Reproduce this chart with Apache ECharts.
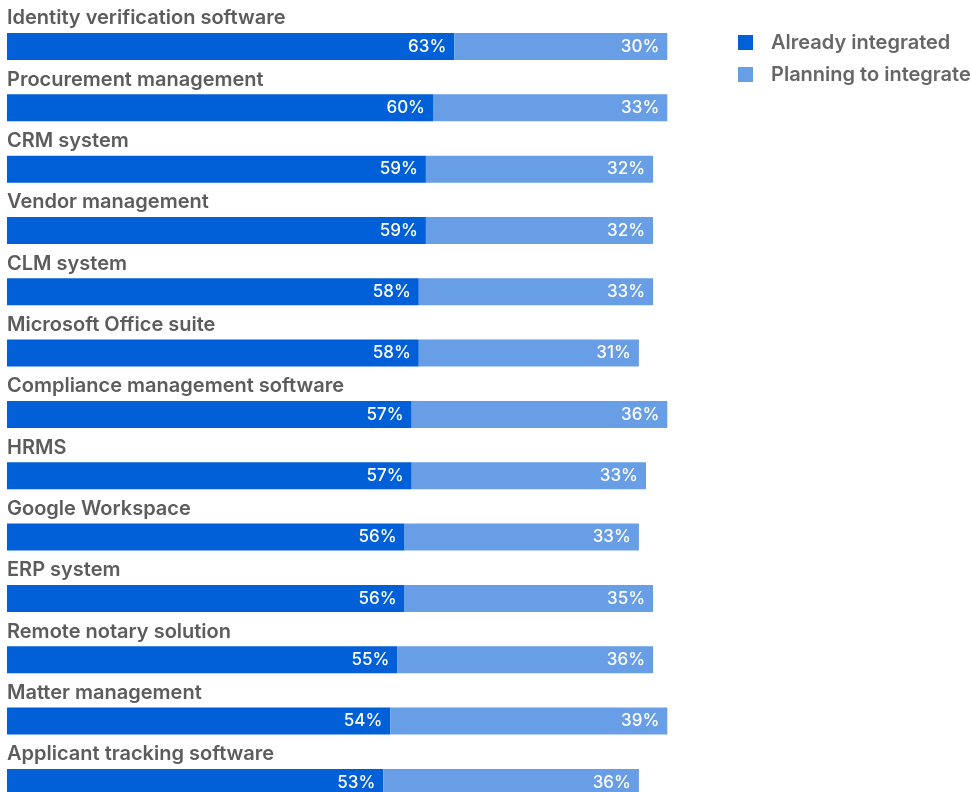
<!DOCTYPE html>
<html>
<head>
<meta charset="utf-8">
<script src="https://cdn.jsdelivr.net/npm/echarts@6/dist/echarts.min.js"></script>
<style>
html,body{margin:0;padding:0;background:#fff;}
#chart{width:971px;height:792px;}
</style>
</head>
<body>
<div id="chart"></div>
<script>
const categories = [
  "Identity verification software",
  "Procurement management",
  "CRM system",
  "Vendor management",
  "CLM system",
  "Microsoft Office suite",
  "Compliance management software",
  "HRMS",
  "Google Workspace",
  "ERP system",
  "Remote notary solution",
  "Matter management",
  "Applicant tracking software"
];
const alreadyIntegrated = [63, 60, 59, 59, 58, 58, 57, 57, 56, 56, 55, 54, 53];
const planningToIntegrate = [30, 33, 32, 32, 33, 31, 36, 33, 33, 35, 36, 39, 36];
const seriesNames = ["Already integrated", "Planning to integrate"];

const chart = echarts.init(document.getElementById('chart'), null, {renderer: 'canvas'});
const FONT = 'Inter';
const valueLabel = {
  show: true,
  position: 'insideRight',
  distance: 8,
  color: '#ffffff',
  fontFamily: FONT,
  fontSize: 17,
  fontWeight: 500,
  formatter: p => p.value + '%'
};
chart.setOption({
  animation: false,
  backgroundColor: '#ffffff',
  grid: {left: 7, right: 254, top: 15.8, height: 797.3, outerBoundsMode: 'none', containLabel: false},
  legend: {
    orient: 'vertical',
    left: 733,
    top: 27.5,
    itemWidth: 15,
    itemHeight: 15,
    itemGap: 12,
    icon: 'rect',
    data: seriesNames,
    textStyle: {color: '#666666', fontFamily: FONT, fontSize: 20, fontWeight: 600, padding: [0, 0, 0, 13]}
  },
  xAxis: {
    type: 'value', min: 0, max: 100,
    show: false
  },
  yAxis: {
    type: 'category',
    data: categories,
    inverse: true,
    axisLine: {show: false},
    axisTick: {show: false},
    splitLine: {show: false},
    axisLabel: {
      inside: true,
      margin: 0,
      align: 'left',
      verticalAlign: 'bottom',
      padding: [0, 0, 18, 0],
      color: '#5c5c5c',
      fontFamily: FONT,
      fontSize: 20,
      fontWeight: 600
    },
    z: 10
  },
  series: [
    {
      name: seriesNames[0], type: 'bar', stack: 'total', barWidth: 27,
      data: alreadyIntegrated,
      itemStyle: {color: '#0160d8'},
      label: valueLabel
    },
    {
      name: seriesNames[1], type: 'bar', stack: 'total', barWidth: 27,
      data: planningToIntegrate,
      itemStyle: {color: '#679ee6'},
      label: valueLabel
    }
  ]
});
</script>
</body>
</html>
